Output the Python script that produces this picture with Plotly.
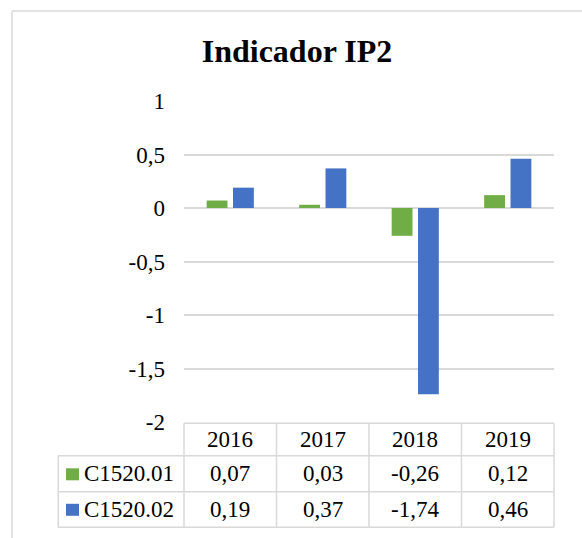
"""
Indicador IP2 - barras agrupadas con tabla de datos (estilo Excel)
"""
import plotly.graph_objects as go

# datos
YEARS = ["2016", "2017", "2018", "2019"]
SERIES_NAMES = ["C1520.01", "C1520.02"]
C1520_01 = [0.07, 0.03, -0.26, 0.12]
C1520_02 = [0.19, 0.37, -1.74, 0.46]
Y_TICKS = [1, 0.5, 0, -0.5, -1, -1.5, -2]

# colores Excel
GREEN = "#70AD47"
BLUE = "#4472C4"
GRID = "#D9D9D9"
FONT = "Liberation Serif"

W, H = 582, 538
M_L, M_R, M_T, M_B = 184, 28, 101, 116
PLOT_W = W - M_L - M_R
PLOT_H = H - M_T - M_B


def px_x(v):
    """pixel horizontal -> paper"""
    return (v - M_L) / PLOT_W


def px_y(v):
    """pixel vertical (desde arriba) -> paper"""
    return (H - M_B - v) / PLOT_H


def tick_fmt(v):
    return f"{v:g}".replace(".", ",")


def val_fmt(v):
    return f"{v:.2f}".replace(".", ",")


fig = go.Figure()
for name, vals, col in zip(SERIES_NAMES, [C1520_01, C1520_02], [GREEN, BLUE]):
    fig.add_trace(go.Bar(x=YEARS, y=vals, name=name,
                         marker={"color": col, "line": {"width": 0}}))

shapes = []
annotations = []

# marco del gráfico
line = {"color": GRID, "width": 1.5}
shapes.append(dict(type="line", xref="paper", yref="paper",
                   x0=px_x(12), x1=px_x(W + 5), y0=px_y(11), y1=px_y(11), line=line))
shapes.append(dict(type="line", xref="paper", yref="paper",
                   x0=px_x(12), x1=px_x(12), y0=px_y(11), y1=px_y(H + 5), line=line))

# tabla de datos
row_top, row_head, row_1, row_2 = px_y(423.3), px_y(455.7), px_y(491.7), px_y(527.3)
left = px_x(58.3)
shapes.append(dict(type="line", xref="paper", yref="paper",
                   x0=0, x1=1, y0=row_top, y1=row_top, line=line))
for yy in [row_head, row_1, row_2]:
    shapes.append(dict(type="line", xref="paper", yref="paper",
                       x0=left, x1=1, y0=yy, y1=yy, line=line))
shapes.append(dict(type="line", xref="paper", yref="paper",
                   x0=left, x1=left, y0=row_head, y1=row_2, line=line))
for xx in [0, 1]:
    shapes.append(dict(type="line", xref="paper", yref="paper",
                       x0=xx, x1=xx, y0=row_top, y1=row_2, line=line))
for i in range(len(YEARS) - 1):
    shapes.append(dict(type="line", xref="x", yref="paper",
                       x0=i + 0.5, x1=i + 0.5, y0=row_top, y1=row_2, line=line))

tfont = {"family": FONT, "size": 23, "color": "black"}
for i, yr in enumerate(YEARS):
    annotations.append(dict(x=i, y=(row_top + row_head) / 2, xref="x", yref="paper",
                            text=yr, showarrow=False, font=tfont, yanchor="middle"))
row_mid = [(row_head + row_1) / 2, (row_1 + row_2) / 2]
for r, (name, vals, col) in enumerate(zip(SERIES_NAMES, [C1520_01, C1520_02], [GREEN, BLUE])):
    for i, v in enumerate(vals):
        annotations.append(dict(x=i, y=row_mid[r], xref="x", yref="paper",
                                text=val_fmt(v), showarrow=False, font=tfont, yanchor="middle"))
    annotations.append(dict(x=px_x(82), y=row_mid[r], xref="paper", yref="paper",
                            text=name, showarrow=False, font=tfont,
                            xanchor="left", yanchor="middle"))
    # clave de leyenda
    yc = px_y(474.3 + 35.5 * r)
    hs = 6 / PLOT_H
    shapes.append(dict(type="rect", xref="paper", yref="paper",
                       x0=px_x(66), x1=px_x(79), y0=yc - hs, y1=yc + hs,
                       fillcolor=col, line={"width": 0}))

fig.update_layout(
    width=W, height=H,
    margin={"l": M_L, "r": M_R, "t": M_T, "b": M_B},
    plot_bgcolor="white",
    paper_bgcolor="white",
    font={"family": FONT, "color": "black", "size": 23},
    title={"text": "<b>Indicador IP2</b>", "font": {"family": FONT, "size": 32, "color": "black"},
           "xref": "paper", "x": px_x(297), "xanchor": "center",
           "yref": "container", "y": 1 - 51 / H, "yanchor": "middle"},
    barmode="group",
    bargap=0.43,
    bargroupgap=0.21,
    showlegend=False,
    xaxis={"range": [-0.5, 3.5], "showticklabels": False, "showgrid": False,
           "zeroline": False, "showline": False, "fixedrange": True},
    yaxis={"range": [-2, 1], "tickvals": Y_TICKS, "ticktext": [tick_fmt(v) for v in Y_TICKS],
           "showgrid": True, "gridcolor": GRID, "gridwidth": 1.5,
           "zeroline": True, "zerolinecolor": GRID, "zerolinewidth": 1.5,
           "showline": False, "ticks": "", "ticklabelstandoff": 18,
           "tickfont": {"size": 23}, "fixedrange": True},
    shapes=shapes,
    annotations=annotations,
)

# quitar el margen por defecto del body y la barra de herramientas
fig.write_html("out.html", config={"displayModeBar": False},
               post_script="document.body.style.margin='0';")
